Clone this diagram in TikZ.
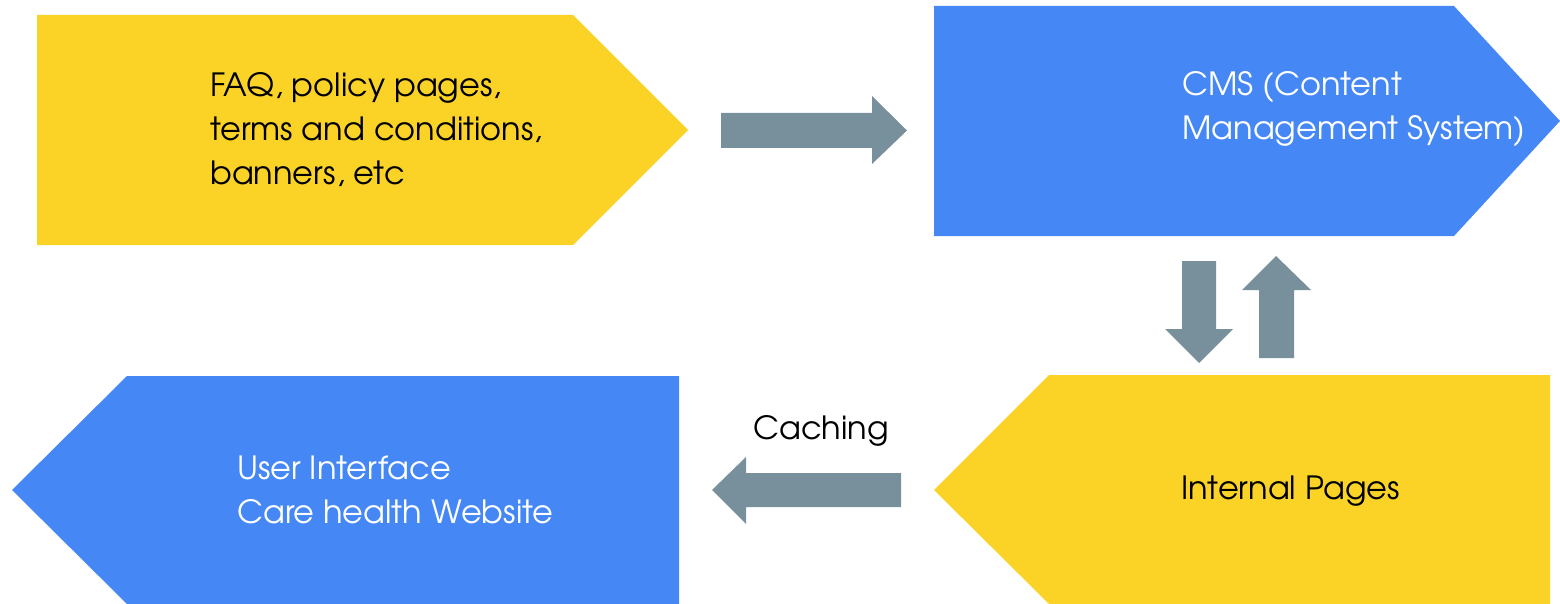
\documentclass[tikz,border=0pt]{standalone}
\usepackage{fontspec}
\setmainfont{TeX Gyre Adventor}
\definecolor{ylw}{HTML}{FBD327}
\definecolor{blu}{HTML}{4487F5}
\definecolor{gry}{HTML}{78909C}
\begin{document}
\begin{tikzpicture}[x=1pt,y=-1pt,
  ylwshape/.style={fill=ylw},
  blushape/.style={fill=blu},
  blockarrow/.style={fill=gry},
  lbl/.style={inner sep=0pt,anchor=west,align=left,font=\fontsize{32}{44}\selectfont},
  dark/.style={lbl,text=black},
  light/.style={lbl,text=white}]
\useasboundingbox (0,0) rectangle (1560,604);
% shapes
\fill[ylwshape] (37,15) -- (573,15) -- (688,130) -- (573,245) -- (37,245) -- cycle;
\fill[blushape] (934,6) -- (1454,6) -- (1560,121) -- (1454,236) -- (934,236) -- cycle;
\fill[ylwshape] (934,490) -- (1049,375) -- (1550,375) -- (1550,604) -- (1049,604) -- cycle;
\fill[blushape] (12,490) -- (127,376) -- (679,376) -- (679,604) -- (127,604) -- cycle;
% arrows
\fill[blockarrow] (721,113) -- (872,113) -- (872,96) -- (907,130.5) -- (872,164) -- (872,148) -- (721,148) -- cycle;
\fill[blockarrow] (1182,261) -- (1216,261) -- (1216,329) -- (1233,329) -- (1199,363) -- (1165,329) -- (1182,329) -- cycle;
\fill[blockarrow] (1259,358) -- (1294,358) -- (1294,290) -- (1311,290) -- (1276,256) -- (1242,290) -- (1259,290) -- cycle;
\fill[blockarrow] (901,473) -- (746,473) -- (746,457) -- (712,490) -- (746,524) -- (746,507) -- (901,507) -- cycle;
% texts
\node[dark] (faq) at (210,130) {FAQ, policy pages,\\terms and conditions,\\banners, etc};
\node[light] (cms) at (1182,109) {CMS (Content\\Management System)};
\node[light] (ui) at (237,490) {User Interface\\Care health Website};
\node[dark] (int) at (1181,491) {Internal Pages};
\node[dark] (cach) at (753,431) {Caching};
\end{tikzpicture}
\end{document}
